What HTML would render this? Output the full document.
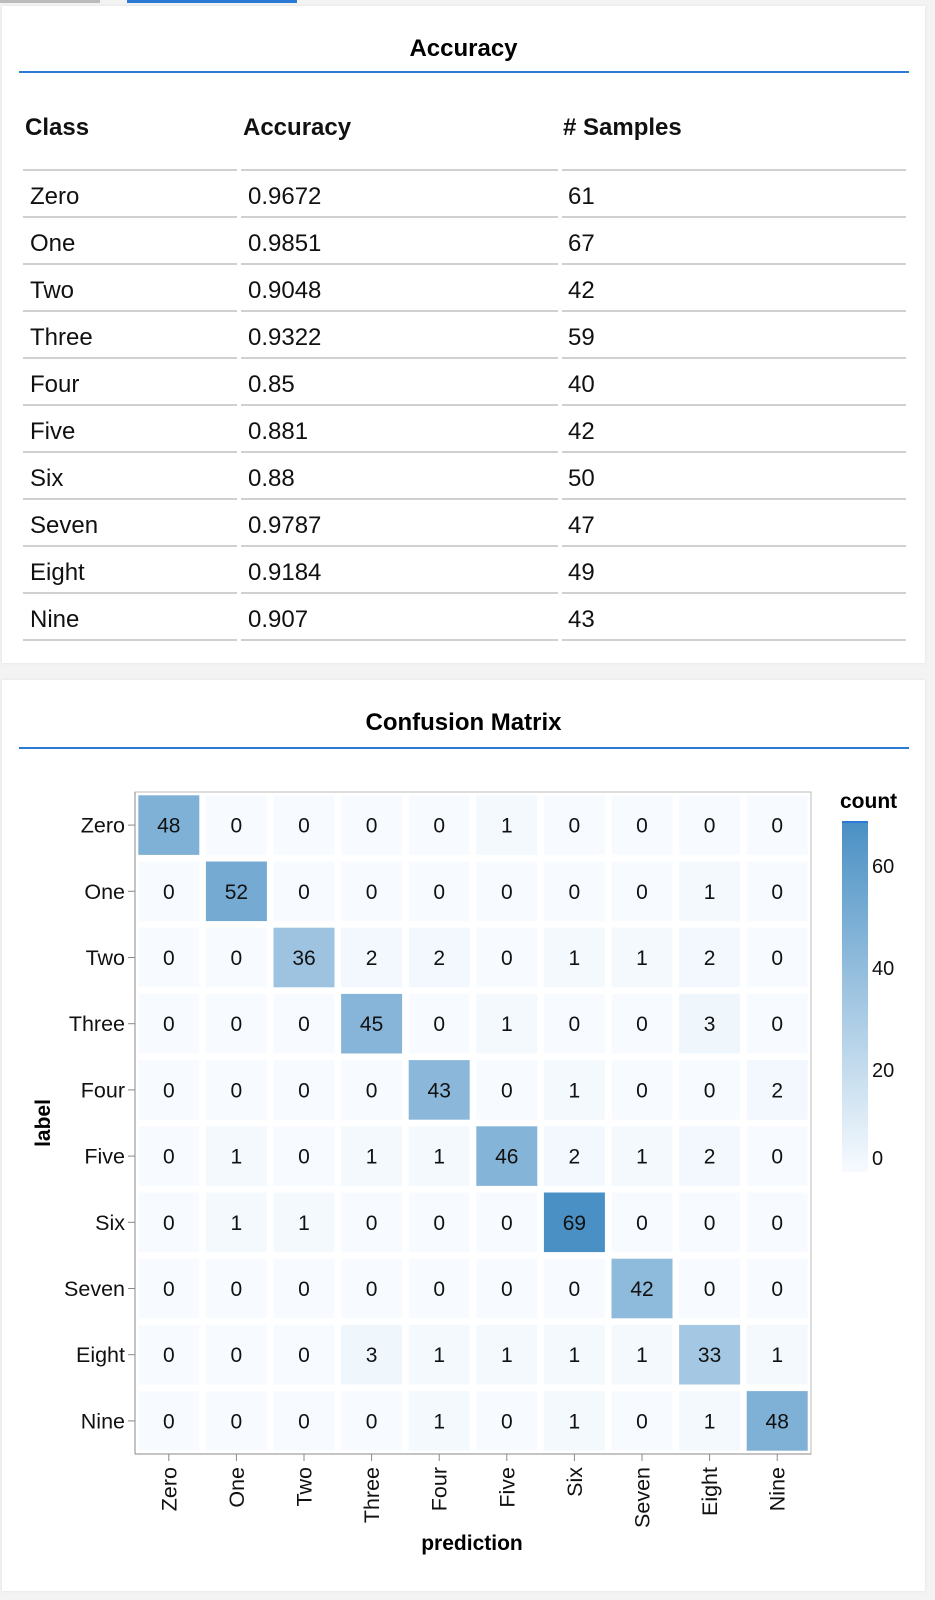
<!DOCTYPE html>
<html><head><meta charset="utf-8"><style>
body{margin:0;width:935px;height:1600px;background:#f3f3f3;font-family:"Liberation Sans",Arial,sans-serif;position:relative;overflow:hidden}
.card{position:absolute;left:2px;width:923px;background:#fff;box-shadow:0 0 3px rgba(0,0,0,.08)}
.title{position:absolute;left:0;width:100%;text-align:center;font-weight:bold;font-size:24px}
.bl{position:absolute;left:17px;width:890px;height:2px;background:#2a7ad6}
.t{position:absolute;font-size:24px;color:#111}
.h{font-weight:bold}
.ln{position:absolute;height:2px;background:#d0d0d0}
</style></head><body>
<div style="position:absolute;left:0;top:0;width:100px;height:3px;background:#bbb"></div>
<div style="position:absolute;left:127px;top:0;width:170px;height:3px;background:#2a7ad6"></div>
<div class="card" style="top:6px;height:657px">
<div class="title" style="top:29px">Accuracy</div>
<div class="bl" style="top:65px"></div>
<div id="tbl"></div>
</div>
<div class="card" style="top:680px;height:911px">
<div class="title" style="top:29px">Confusion Matrix</div>
<div class="bl" style="top:67px"></div>
</div>
<svg id="cm" width="935" height="1600" style="position:absolute;left:0;top:0" font-family="Liberation Sans, Arial, sans-serif"></svg>
<script>
var names=["Zero","One","Two","Three","Four","Five","Six","Seven","Eight","Nine"];
var acc=["0.9672","0.9851","0.9048","0.9322","0.85","0.881","0.88","0.9787","0.9184","0.907"];
var ns=[61,67,42,59,40,42,50,47,49,43];
var h='<div class="t h" style="left:23px;top:108px">Class</div><div class="t h" style="left:241px;top:108px">Accuracy</div><div class="t h" style="left:561px;top:108px"># Samples</div>';
function lines(y){return '<div class="ln" style="left:21px;width:214px;top:'+y+'px"></div><div class="ln" style="left:239px;width:317px;top:'+y+'px"></div><div class="ln" style="left:560px;width:344px;top:'+y+'px"></div>';}
h+=lines(163);
for(var i=0;i<10;i++){var y=177+i*47;
h+='<div class="t" style="left:28px;top:'+y+'px">'+names[i]+'</div><div class="t" style="left:246px;top:'+y+'px">'+acc[i]+'</div><div class="t" style="left:566px;top:'+y+'px">'+ns[i]+'</div>';
h+=lines(210+i*47);}
document.getElementById('tbl').innerHTML=h;
var M=[[48,0,0,0,0,1,0,0,0,0],[0,52,0,0,0,0,0,0,1,0],[0,0,36,2,2,0,1,1,2,0],[0,0,0,45,0,1,0,0,3,0],[0,0,0,0,43,0,1,0,0,2],[0,1,0,1,1,46,2,1,2,0],[0,1,1,0,0,0,69,0,0,0],[0,0,0,0,0,0,0,42,0,0],[0,0,0,3,1,1,1,1,33,1],[0,0,0,0,1,0,1,0,1,48]];
function col(v){var t=v/69;return 'rgb('+Math.round(247-173*t)+','+Math.round(251-107*t)+','+Math.round(255-59*t)+')';}
var X0=135,Y0=792,CW=67.6,CH=66.2,s='';
s+='<rect x="'+X0+'" y="'+Y0+'" width="676" height="662" fill="#fff" stroke="#bbb" stroke-width="1"/>';
for(var r=0;r<10;r++)for(var c=0;c<10;c++){var x=X0+c*CW,y=Y0+r*CH,v=M[r][c];
s+='<rect x="'+(x+3.3)+'" y="'+(y+3.3)+'" width="'+(CW-6.6)+'" height="'+(CH-6.6)+'" fill="'+col(v)+'"/>';
s+='<text x="'+(x+CW/2)+'" y="'+(y+CH/2+7.5)+'" font-size="21" text-anchor="middle" fill="#111">'+v+'</text>';}
s+='<line x1="135" y1="792" x2="135" y2="1454" stroke="#888"/><line x1="135" y1="1454" x2="811" y2="1454" stroke="#888"/>';
for(var i=0;i<10;i++){var y=Y0+i*CH+CH/2;
s+='<line x1="128" y1="'+y+'" x2="135" y2="'+y+'" stroke="#888"/><text x="125" y="'+(y+7.5)+'" font-size="21.5" text-anchor="end" fill="#111">'+names[i]+'</text>';
var x=X0+i*CW+CW/2;
s+='<line x1="'+x+'" y1="1454" x2="'+x+'" y2="1461" stroke="#888"/><text transform="translate('+(x+7.5)+',1467) rotate(-90)" font-size="21.5" text-anchor="end" fill="#111">'+names[i]+'</text>';}
s+='<text x="472" y="1550" font-size="21" font-weight="bold" text-anchor="middle">prediction</text>';
s+='<text transform="translate(50,1123) rotate(-90)" font-size="21" font-weight="bold" text-anchor="middle">label</text>';
s+='<defs><linearGradient id="g" x1="0" y1="1" x2="0" y2="0"><stop offset="0" stop-color="#f7fbff"/><stop offset="1" stop-color="#4a90c4"/></linearGradient></defs>';
s+='<text x="840" y="808" font-size="21" font-weight="bold">count</text>';
s+='<rect x="842" y="822" width="26" height="350" fill="url(#g)"/><line x1="842" y1="822" x2="868" y2="822" stroke="#2a7ad6" stroke-width="2"/>';
[[60,873],[40,975],[20,1077],[0,1165]].forEach(function(a){s+='<text x="872" y="'+a[1]+'" font-size="20" fill="#111">'+a[0]+'</text>';});
document.getElementById('cm').innerHTML=s;
</script>
</body></html>
